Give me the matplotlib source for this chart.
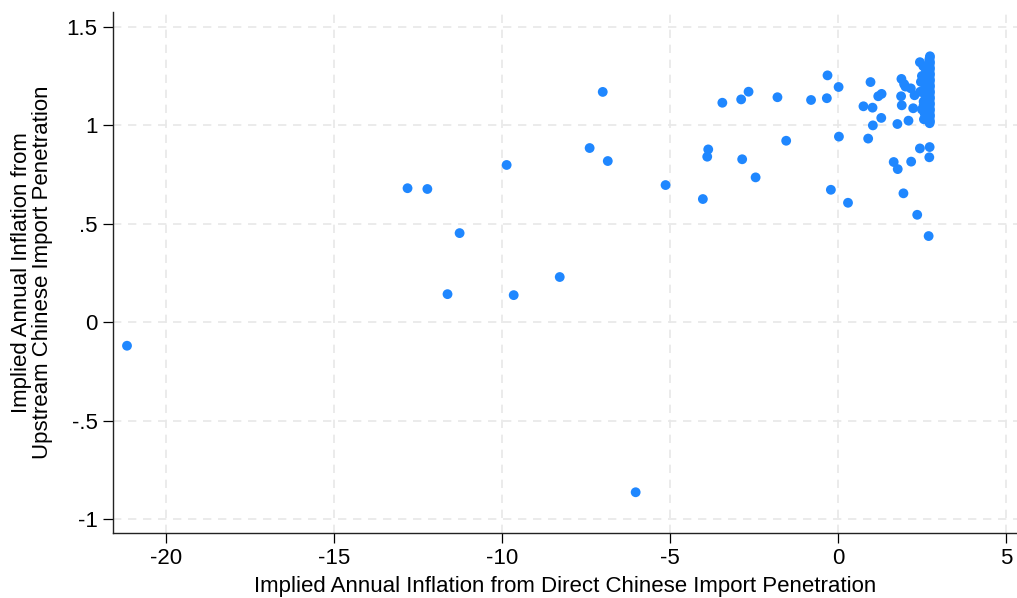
import numpy as np
import matplotlib.pyplot as plt

plt.rcParams['font.family'] = ['Liberation Sans', 'DejaVu Sans']

# scattered points (direct, upstream)
x_scatter = [-21.16, -12.81, -12.22, -11.26, -11.62, -9.86, -9.65, -8.28, -7.39, -7.00,
             -6.85, -6.02, -5.13, -4.02, -3.86, -3.89, -3.44, -2.88, -2.66, -2.85,
             -2.45, -1.80, -1.54, -0.80, -0.31, -0.33, 0.02, 0.03, -0.21, 0.30,
             0.97, 0.76, 1.03, 1.20, 1.30, 1.29, 1.04, 0.90, 1.89, 1.97,
             2.01, 2.17, 1.88, 1.90, 2.28, 2.24, 1.77, 2.10, 1.66, 1.78,
             2.18, 1.95, 2.36, 2.70, 2.44, 2.73, 2.72]
y_scatter = [-0.12, 0.68, 0.676, 0.452, 0.142, 0.798, 0.137, 0.229, 0.884, 1.169,
             0.818, -0.864, 0.696, 0.625, 0.877, 0.84, 1.114, 1.131, 1.17, 0.827,
             0.735, 1.142, 0.921, 1.128, 1.253, 1.137, 1.194, 0.942, 0.672, 0.606,
             1.219, 1.096, 1.089, 1.147, 1.159, 1.037, 0.999, 0.932, 1.235, 1.209,
             1.196, 1.187, 1.147, 1.101, 1.152, 1.086, 1.006, 1.023, 0.813, 0.777,
             0.815, 0.654, 0.545, 0.437, 0.882, 0.889, 0.837]

# dense cluster near the right edge
x_cluster = [2.74, 2.73, 2.72, 2.74, 2.73, 2.72, 2.74, 2.73, 2.72, 2.74,
             2.73, 2.72, 2.74, 2.73, 2.72, 2.74, 2.73, 2.72, 2.74, 2.73,
             2.72, 2.74, 2.73, 2.72, 2.74, 2.73, 2.72, 2.74, 2.73, 2.72,
             2.74, 2.73, 2.72, 2.74, 2.73,
             2.44, 2.54, 2.47, 2.50, 2.55, 2.56, 2.50, 2.60, 2.45, 2.60,
             2.55, 2.58, 2.62, 2.65, 2.66, 2.64, 2.63, 2.67]
y_cluster = [1.35, 1.34, 1.33, 1.32, 1.31, 1.30, 1.29, 1.28, 1.27, 1.26,
             1.25, 1.24, 1.23, 1.22, 1.21, 1.20, 1.19, 1.18, 1.17, 1.16,
             1.15, 1.14, 1.13, 1.12, 1.11, 1.10, 1.09, 1.08, 1.07, 1.06,
             1.05, 1.04, 1.03, 1.02, 1.01,
             1.32, 1.30, 1.22, 1.25, 1.12, 1.03, 1.08, 1.15, 1.17, 1.20,
             1.10, 1.06, 1.28, 1.24, 1.18, 1.14, 1.09, 1.04]

x_ticks = [-20, -15, -10, -5, 0, 5]
y_ticks = [-1, -0.5, 0, 0.5, 1, 1.5]
y_ticklabels = ['-1', '-.5', '0', '.5', '1', '1.5']

fig = plt.figure(figsize=(10.17, 5.98), dpi=100)
ax = fig.add_axes([0.111, 0.109, 0.889, 0.871])

dot_color = '#1f87ff'
ax.scatter(x_scatter + x_cluster, y_scatter + y_cluster, s=50, color=dot_color,
           edgecolors='none', zorder=3)

ax.set_xlim(-21.58, 5.33)
ax.set_ylim(-1.07, 1.575)
ax.set_xticks(x_ticks)
ax.set_xticklabels([str(t) for t in x_ticks])
ax.set_yticks(y_ticks)
ax.set_yticklabels(y_ticklabels)

ax.grid(True, color='#e8e8e8', linestyle=(0, (5, 4)), linewidth=1.2, zorder=0)
for side in ['top', 'right']:
    ax.spines[side].set_visible(False)
for side in ['left', 'bottom']:
    ax.spines[side].set_linewidth(1.0)
    ax.spines[side].set_color('#222222')

ax.tick_params(axis='both', direction='out', length=7, width=0.9, labelsize=16,
               colors='black', pad=4)

ax.set_xlabel('Implied Annual Inflation from Direct Chinese Import Penetration',
              fontsize=16, labelpad=5)
ax.set_ylabel('Implied Annual Inflation from\nUpstream Chinese Import Penetration',
              fontsize=16, labelpad=10, linespacing=1.0)

fig.savefig('out.png', dpi=100, facecolor='white')
